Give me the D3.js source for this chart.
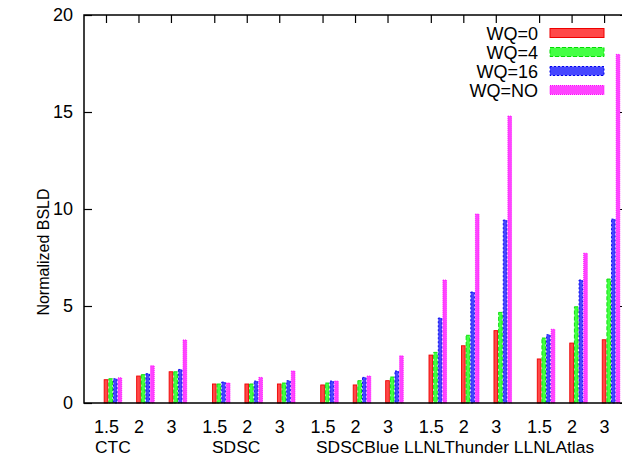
<!DOCTYPE html>
<html>
<head>
<meta charset="utf-8">
<script src="https://cdn.jsdelivr.net/npm/d3@7"></script>
<style>
  body { margin: 0; background: #fff; }
  svg { display: block; font-family: "Liberation Sans", Arial, sans-serif; }
</style>
</head>
<body>
<svg id="chart" width="622" height="458"></svg>
<script>
// data
var groups = ["CTC", "SDSC", "SDSCBlue", "LLNLThunder", "LLNLAtlas"];
var factors = ["1.5", "2", "3"];
var seriesNames = ["WQ=0", "WQ=4", "WQ=16", "WQ=NO"];
var wq0  = [1.20, 1.39, 1.61, 0.98, 0.98, 0.98, 0.93, 0.93, 1.15, 2.47, 2.95, 3.73, 2.27, 3.09, 3.26];
var wq4  = [1.25, 1.46, 1.61, 0.98, 0.98, 1.03, 1.03, 1.15, 1.34, 2.61, 3.49, 4.67, 3.35, 4.96, 6.39];
var wq16 = [1.25, 1.51, 1.73, 1.08, 1.13, 1.15, 1.13, 1.32, 1.65, 4.38, 5.72, 9.43, 3.52, 6.34, 9.48];
var wqNO = [1.30, 1.92, 3.25, 1.03, 1.32, 1.65, 1.13, 1.39, 2.43, 6.34, 9.74, 14.79, 3.80, 7.72, 17.97];
var yTicks = [0, 5, 10, 15, 20];

var series = [wq0, wq4, wq16, wqNO];
var strokes = ["#ee0000", "#00dd00", "#0000ee", "#ff00ff"];
var fills = ["#ff4848", "#44ff44", "#4646ff", "#ff44ff"];
var dashes = [null, "4,2", "2,2", "1,1"];

var svg = d3.select("#chart");
var mLeft = 84, mRight = 628, mTop = 15, mBottom = 403;
var fontSize = 18;
var groupStep = 10 / 3;   // clusters of 3, gap between groups
var barW = 1 / 7;

var x = d3.scaleLinear().domain([-0.677, 16.07]).range([mLeft, mRight]);
var y = d3.scaleLinear().domain([0, 20]).range([mBottom, mTop]);

// one slot per (group, factor)
var slots = [];
groups.forEach(function (g, gi) {
    factors.forEach(function (f, fi) {
        slots.push({ group: g, label: f, pos: gi * groupStep + fi, idx: slots.length });
    });
});

var styleText = function (g) {
    g.selectAll("text")
        .attr("font-size", fontSize)
        .attr("font-family", "Liberation Sans, Arial, sans-serif")
        .attr("fill", "#000");
};

// y axis ticks + labels
svg.append("g")
    .attr("transform", "translate(" + mLeft + ",0)")
    .call(d3.axisLeft(y).tickValues(yTicks).tickSize(-8).tickPadding(11))
    .call(function (g) { g.select(".domain").remove(); g.selectAll("line").attr("stroke-width", 1.2); })
    .call(styleText);
// mirrored ticks on the right
svg.append("g")
    .attr("transform", "translate(" + mRight + ",0)")
    .call(d3.axisRight(y).tickValues(yTicks).tickSize(-8).tickFormat(""))
    .call(function (g) { g.select(".domain").remove(); g.selectAll("line").attr("stroke-width", 1.2); });

// x axis ticks (bottom labels, top mirrored ticks)
var tickPos = slots.map(function (d) { return d.pos; });
svg.append("g")
    .attr("transform", "translate(0," + mBottom + ")")
    .call(d3.axisBottom(x)
        .tickValues(tickPos)
        .tickFormat(function (d, i) { return slots[i].label; })
        .tickSize(-8).tickPadding(17))
    .call(function (g) { g.select(".domain").remove(); g.selectAll("line").attr("stroke-width", 1.2); })
    .call(styleText);
svg.append("g")
    .attr("transform", "translate(0," + mTop + ")")
    .call(d3.axisTop(x).tickValues(tickPos).tickSize(-8).tickFormat(""))
    .call(function (g) { g.select(".domain").remove(); g.selectAll("line").attr("stroke-width", 1.2); });

// bars (drawn over the bottom ticks, like the original)
var plot = svg.append("g");
series.forEach(function (vals, si) {
    plot.selectAll("rect.s" + si)
        .data(slots)
        .enter()
        .append("rect")
        .attr("class", "s" + si)
        .attr("x", function (d) { return x(d.pos + si * barW - barW / 2) + 0.5; })
        .attr("width", function (d) { return x(d.pos + barW) - x(d.pos) - 1; })
        .attr("y", function (d) { return y(vals[d.idx]); })
        .attr("height", function (d) { return y(0) - y(vals[d.idx]); })
        .attr("fill", fills[si])
        .attr("stroke", strokes[si])
        .attr("stroke-width", 0.9)
        .attr("stroke-dasharray", dashes[si]);
});

// frame
svg.append("path")
    .attr("d", "M" + mRight + "," + mTop + "H" + mLeft + "V" + mBottom + "H" + mRight)
    .attr("stroke", "#000").attr("stroke-width", 1.5).attr("fill", "none");

// group names along the bottom (gnuplot xlabel made of one spaced string)
var groupLabelX = [95, 212, 316];
var groupLabelText = ["CTC", "SDSC", "SDSCBlue LLNLThunder LLNLAtlas"];
svg.selectAll("text.grp")
    .data(groupLabelText)
    .enter()
    .append("text")
    .attr("class", "grp")
    .attr("x", function (d, i) { return groupLabelX[i]; })
    .attr("y", 453)
    .attr("font-size", 17.4)
    .style("white-space", "pre")
    .text(function (d) { return d; });

// y title
svg.append("text")
    .attr("transform", "translate(49,252) rotate(-90)")
    .attr("text-anchor", "middle")
    .attr("font-size", 16)
    .text("Normalized BSLD");

// legend
var legend = svg.append("g");
seriesNames.forEach(function (name, si) {
    var ly = 33 + si * 19;
    legend.append("text")
        .attr("x", 538).attr("y", ly + 6.5)
        .attr("text-anchor", "end")
        .attr("font-size", fontSize)
        .text(name);
    legend.append("rect")
        .attr("x", 550).attr("y", ly - 4.5)
        .attr("width", 54).attr("height", 9)
        .attr("fill", fills[si])
        .attr("stroke", strokes[si])
        .attr("stroke-dasharray", dashes[si]);
});
</script>
</body>
</html>
